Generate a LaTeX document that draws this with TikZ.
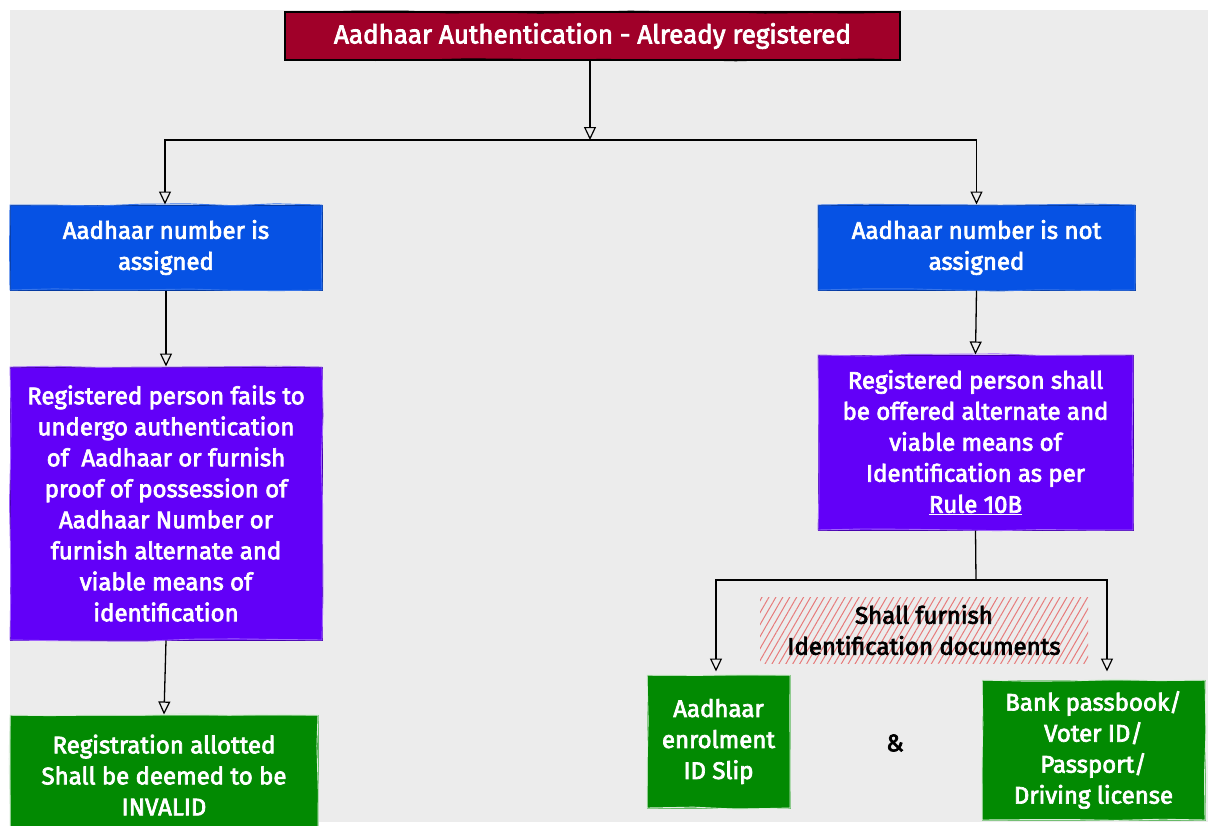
\documentclass[tikz,border=0pt]{standalone}
\usepackage{fontspec}
\setmainfont{Fira Sans}[FakeBold=3]
\usetikzlibrary{arrows.meta,patterns.meta,decorations.pathmorphing,calc}
\definecolor{bgc}{HTML}{ECECEC}
\definecolor{titlered}{HTML}{A00029}
\definecolor{boxblue}{HTML}{0652E4}
\definecolor{boxpurple}{HTML}{6200F8}
\definecolor{boxgreen}{HTML}{028A02}
\definecolor{hatchred}{HTML}{E77A7A}
\begin{document}
\begin{tikzpicture}[x=1pt,y=-1pt,
  txt/.style={align=center, font={\fontsize{24}{31}\selectfont}},
  box/.style={rectangle, inner sep=0pt, txt, text=white},
  rough/.style={postaction={draw=#1, line width=0.9pt, decorate,
      decoration={random steps, segment length=45pt, amplitude=1.2pt}}},
  titlebox/.style={box, fill=titlered, draw=black, line width=1.3pt, rough=black,
      font={\fontsize{26}{31}\selectfont}},
  bluebox/.style={box, fill=boxblue, draw=boxblue!70!black, line width=1pt, rough=boxblue!80!white},
  purplebox/.style={box, fill=boxpurple, draw=boxpurple!70!black, line width=1pt, rough=boxpurple!60!white},
  greenbox/.style={box, fill=boxgreen, draw=boxgreen!60!white, line width=1pt, rough=white!85!boxgreen},
  conn/.style={draw=black, line width=1.3pt, -{Triangle[open,length=13pt,width=12pt,line width=1.2pt]}},
  plain/.style={draw=black, line width=1.3pt},
  hatch/.style={rectangle, inner sep=0pt, txt, text=black,
      pattern={Lines[angle=60,distance=6pt,line width=1pt]}, pattern color=hatchred}
]
\pgfmathsetseed{7}
\useasboundingbox (0,0) rectangle (1208,825);
\fill[white] (0,0) rectangle (1208,825);
\fill[bgc] (10,10) rectangle (1208,822);

% nodes
\node[titlebox, minimum width=615pt, minimum height=48pt] (title) at (592.5,36)
  {Aadhaar Authentication - Already registered};

\node[bluebox, minimum width=312pt, minimum height=85pt] (b1) at (166,247.5)
  {Aadhaar number is\\assigned};
\node[bluebox, minimum width=317pt, minimum height=85pt] (b2) at (976.5,247.5)
  {Aadhaar number is not\\assigned};

\node[purplebox, minimum width=312pt, minimum height=273pt] (p1) at (166,503.5)
  {Registered person fails to\\undergo authentication\\of\ \ Aadhaar or furnish\\proof of possession of\\Aadhaar Number or\\furnish alternate and\\viable means of\\identification};
\node[purplebox, minimum width=315pt, minimum height=175pt] (p2) at (975.5,442.5)
  {Registered person shall\\be offered alternate and\\viable means of\\Identification as per\\\underline{Rule 10B}};

\node[greenbox, minimum width=308pt, minimum height=120pt] (g1) at (164,775)
  {Registration allotted\\Shall be deemed to be\\INVALID};

\node[hatch, minimum width=328pt, minimum height=66pt] (h) at (924,630)
  {Shall furnish\\Identification documents};

\node[greenbox, minimum width=143pt, minimum height=133pt] (g2) at (718.5,741.5)
  {Aadhaar\\enrolment\\ID Slip};
\node[greenbox, minimum width=223pt, minimum height=140pt] (g3) at (1093.5,750)
  {Bank passbook/\\Voter ID/\\Passport/\\Driving license};

\node[txt, text=black] (amp) at (895,743) {\&};

% connectors
\coordinate (j1) at (590,140);
\coordinate (j2) at (976,580);
\draw[conn] ([xshift=-2.5pt]title.south) -- (j1);
\draw[plain] (b1.north |- j1) -- (b2.north |- j1);
\draw[conn] (j1) -| ([xshift=-1pt]b1.north);
\draw[conn] (j1) -| (b2.north);
\draw[conn] (b1.south) -- (p1.north);
\draw[conn] (p1.south) -- (g1.north);
\draw[conn] (b2.south) -- (p2.north);
\draw[plain] (p2.south) -- (j2);
\draw[conn] (j2) -| ([xshift=-2.5pt,yshift=3pt]g2.north);
\draw[conn] (j2) -| ([xshift=13.5pt,yshift=8pt]g3.north);
\end{tikzpicture}
\end{document}
